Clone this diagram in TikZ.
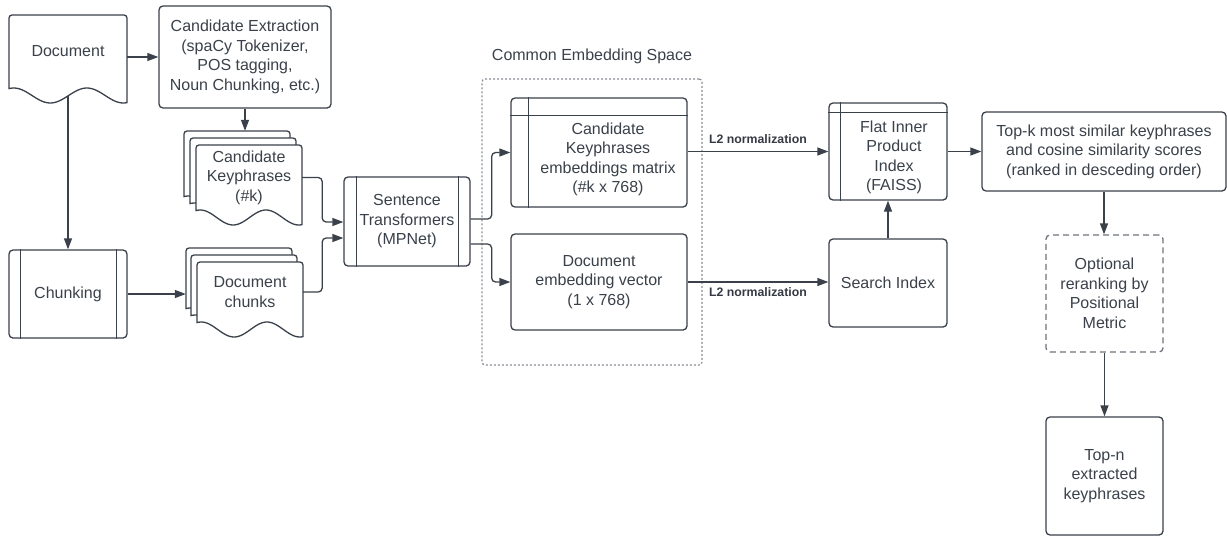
\documentclass[tikz,border=0pt]{standalone}
\usepackage{fontspec}
\setmainfont{Liberation Sans}
\usetikzlibrary{arrows.meta,calc}
\definecolor{ink}{HTML}{3A414A}
\definecolor{dotgray}{HTML}{8A8F96}
\definecolor{dashgray}{HTML}{6E737A}

\newcommand{\bodytext}{\fontsize{16}{19.5}\selectfont}
\newcommand{\tagtext}{\fontsize{12.3}{14}\selectfont\bfseries}

\tikzset{
  base/.style={draw=ink, line width=1.3pt},
  txt/.style={text=ink, font=\bodytext, align=center, inner sep=0pt},
  box/.style={base, rounded corners=4pt, fill=white, txt},
  arr/.style={base, -{Triangle[length=11pt,width=8pt]}},
  tag/.style={text=ink!90!black, font=\tagtext, inner sep=0pt},
}

% document shape with a wavy bottom edge: name, x, y (top), width, side height, text
\newcommand{\docshape}[6]{%
  \filldraw[base, fill=white] (#2,#3+#5) [rounded corners=3pt] -- (#2,#3) -- (#2+#4,#3)
    [sharp corners] -- (#2+#4,#3+#5+15)
    -- plot[domain=1:0, samples=60, variable=\t]
       ({#2+\t*#4},{#3+#5+7.5-7.5*cos(360*(\t-0.04)/0.62)}) -- cycle;
  \node[txt, minimum width=#4pt, minimum height=#5pt] (#1) at ({#2+#4/2},{#3+#5/2}) {#6};
}

\begin{document}
\begin{tikzpicture}[x=1pt, y=-1pt]
\useasboundingbox (0,0) rectangle (1227,536);

% ---- input side
\docshape{doc}{9}{15}{118}{73}{Document}
\coordinate (docfoot) at (68,96);

\node[box, minimum width=172pt, minimum height=102pt] (ce) at (245,57)
  {Candidate Extraction\\(spaCy Tokenizer,\\POS tagging,\\Noun Chunking, etc.)};

\node[box, minimum width=118pt, minimum height=88pt] (chunking) at (68,294) {Chunking};
\draw[base] ([xshift=12pt]chunking.north west) -- ([xshift=12pt]chunking.south west);
\draw[base] ([xshift=-11pt]chunking.north east) -- ([xshift=-11pt]chunking.south east);

% stacked candidate keyphrases
\docshape{ckc}{184}{131}{106}{65}{}
\docshape{ckb}{190}{138}{106}{65}{}
\docshape{ck}{196}{145}{106}{65}{Candidate\\Keyphrases\\(\#k)}

% stacked document chunks
\docshape{chc}{186}{248}{106}{60}{}
\docshape{chb}{191}{255}{106}{60}{}
\docshape{chunks}{197}{262}{106}{60}{Document\\chunks}

% ---- encoder
\node[box, minimum width=126pt, minimum height=89pt] (st) at (407,221.5)
  {Sentence\\Transformers\\(MPNet)};
\draw[base] ([xshift=13pt]st.north west) -- ([xshift=13pt]st.south west);
\draw[base] ([xshift=-12pt]st.north east) -- ([xshift=-12pt]st.south east);

% ---- common embedding space
\node[draw=dotgray, line width=1.2pt, dash pattern=on 2pt off 2pt, rounded corners=3pt,
      minimum width=220pt, minimum height=286pt, inner sep=0pt] (space) at (592,222) {};
\node[txt] (spacelabel) at (592,56) {Common Embedding Space};

\node[box, minimum width=176pt, minimum height=109pt] (ckem) at (599,152.5) {};
\draw[base] ([yshift=-18pt]ckem.north west) -- ([yshift=-18pt]ckem.north east);
\draw[base] ([xshift=18pt]ckem.north west) -- ([xshift=18pt]ckem.south west);
\node[txt] (ckemtext) at (608,159.5)
  {Candidate\\Keyphrases\\embeddings matrix\\(\#k x 768)};

\node[box, minimum width=176pt, minimum height=96pt] (dev) at (599,282)
  {Document\\embedding vector\\(1 x 768)};

% ---- index and search
\node[box, minimum width=118pt, minimum height=97pt] (flat) at (888,151.5) {};
\draw[base] ([yshift=-10pt]flat.north west) -- ([yshift=-10pt]flat.north east);
\draw[base] ([xshift=12pt]flat.north west) -- ([xshift=12pt]flat.south west);
\node[txt] (flattext) at (894,157.5) {Flat Inner\\Product\\Index\\(FAISS)};

\node[box, minimum width=118pt, minimum height=88pt] (search) at (888,283) {Search Index};

% ---- results
\node[box, minimum width=244pt, minimum height=79pt] (topk) at (1104,151.5)
  {Top-k most similar keyphrases\\and cosine similarity scores\\(ranked in desceding order)};
\node[box, draw=dashgray, dash pattern=on 6pt off 4pt, minimum width=117pt, minimum height=117pt]
  (opt) at (1104.5,293.5) {Optional\\reranking by\\Positional\\Metric};
\node[box, minimum width=117pt, minimum height=118pt] (topn) at (1104.5,476)
  {Top-n\\extracted\\keyphrases};

% ---- connectors
\draw[arr] (ce.west -| doc.east) -- (ce.west);
\draw[arr] (docfoot) -- (chunking.north);
\draw[arr] (ce.south) -- (ce.south |- ckc.north);
\draw[arr] (chunking.east) -- (chunking.east -| chc.west);
\draw[arr, rounded corners=4pt] (ck.east) -- ++(20,0) |- ([yshift=-0.5pt]st.west);
\draw[arr, rounded corners=4pt] (chunks.east) -- ++(19,0) |- ([yshift=-16.5pt]st.west);
\draw[arr, rounded corners=4pt] ([yshift=2.5pt]st.east) -- ++(21,0) |- (ckem.west);
\draw[arr, rounded corners=4pt] ([yshift=-22.5pt]st.east) -- ++(21,0) |- (dev.west);
\draw[arr] (ckem.east |- flat.west) -- node[tag, midway, yshift=12pt] (l2top) {L2 normalization} (flat.west);
\draw[arr] (dev.east) -- node[tag, midway, yshift=-10pt] (l2bot) {L2 normalization} (dev.east -| search.west);
\draw[arr] (search.north) -- (flat.south);
\draw[arr] (flat.east) -- (topk.west);
\draw[arr] (topk.south) -- (topk.south |- opt.north);
\draw[arr] (opt.south) -- (opt.south |- topn.north);
\end{tikzpicture}
\end{document}
